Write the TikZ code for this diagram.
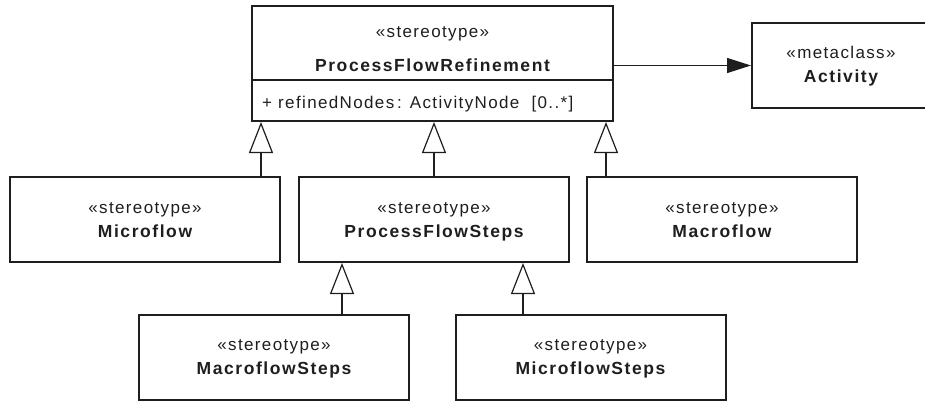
\documentclass[tikz,border=0pt]{standalone}
\usepackage{fontspec}
\setmainfont{Liberation Sans}[LetterSpace=8]
\usetikzlibrary{arrows.meta}
\definecolor{ink}{HTML}{1E1E1E}
\tikzset{
  umlbox/.style={draw=ink, line width=2pt, inner sep=0pt, line join=miter},
  gen/.style={draw=ink, line width=1.2pt, -{Triangle[open,length=31pt,width=24pt,fill=white,line width=1.2pt]}},
  assoc/.style={draw=ink, line width=1.2pt, -{Triangle[length=24pt,width=15pt]}},
  ster/.style={anchor=base, inner sep=0pt, text=ink, font=\fontsize{17}{20}\selectfont},
  nm/.style={anchor=base, inner sep=0pt, text=ink, font=\fontsize{17.5}{20}\selectfont\bfseries\addfontfeatures{LetterSpace=9}},
}
\begin{document}
\begin{tikzpicture}[x=1pt,y=-1pt]
\useasboundingbox (0,0) rectangle (925,401);
% boxes
\node[umlbox, minimum width=361pt, minimum height=115pt] (top) at (432.5,63.5) {};
\node[umlbox, minimum width=178pt, minimum height=85pt] (act) at (841,65.5) {};
\node[umlbox, minimum width=270pt, minimum height=85pt] (micro) at (145,219.5) {};
\node[umlbox, minimum width=270pt, minimum height=85pt] (pfs) at (434,219.5) {};
\node[umlbox, minimum width=270pt, minimum height=85pt] (macro) at (722,219.5) {};
\node[umlbox, minimum width=270pt, minimum height=85pt] (macs) at (274,357.5) {};
\node[umlbox, minimum width=270pt, minimum height=85pt] (mics) at (590.5,357.5) {};
% divider
\coordinate (div) at (0,80);
\draw[draw=ink, line width=1.2pt] (top.west |- div) -- (top.east |- div);
% texts
\node[ster] (t1) at (432.5,37.5) {«stereotype»};
\node[nm] (t2) at (432.5,72) {ProcessFlowRefinement};
\node[ster, anchor=base west] (t3) at (262,109) {+ refinedNodes\,: ActivityNode\ \ [0..*]};
\node[ster] (a1) at (841,59) {«metaclass»};
\node[nm] (a2) at (841,83) {Activity};
\node[ster] (m1) at (145,213) {«stereotype»};
\node[nm] (m2) at (145,237) {Microflow};
\node[ster] (p1) at (434,213) {«stereotype»};
\node[nm] (p2) at (434,237) {ProcessFlowSteps};
\node[ster] (c1) at (722,213) {«stereotype»};
\node[nm] (c2) at (722,237) {Macroflow};
\node[ster] (s1) at (274,350) {«stereotype»};
\node[nm] (s2) at (274,374) {MacroflowSteps};
\node[ster] (u1) at (590.5,350) {«stereotype»};
\node[nm] (u2) at (590.5,374) {MicroflowSteps};
% connectors
\draw[assoc] (act.west -| top.east) -- (act.west);
\coordinate (g1) at (261,0);
\coordinate (g2) at (434,0);
\coordinate (g3) at (606,0);
\coordinate (g4) at (342,0);
\coordinate (g5) at (523,0);
\draw[gen] (micro.north -| g1) -- (top.south -| g1);
\draw[gen] (pfs.north -| g2) -- (top.south -| g2);
\draw[gen] (macro.north -| g3) -- (top.south -| g3);
\draw[gen] (macs.north -| g4) -- (pfs.south -| g4);
\draw[gen] (mics.north -| g5) -- (pfs.south -| g5);
\end{tikzpicture}
\end{document}
